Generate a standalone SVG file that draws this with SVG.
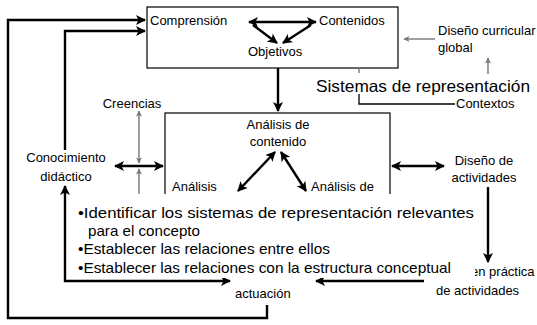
<svg xmlns="http://www.w3.org/2000/svg" width="537" height="325" viewBox="0 0 537 325">
<style>
text{font-family:"Liberation Sans",Arial,sans-serif;fill:#000}
.s{font-size:13px}
.b{font-size:15px}
.k{fill:none;stroke:#000;stroke-width:2.4}
.g{fill:none;stroke:#777;stroke-width:1.4}
.box{fill:#fff;stroke:#000;stroke-width:1.2}
</style>
<defs>
<marker id="ah" viewBox="0 0 10 10" refX="9" refY="5" markerWidth="11" markerHeight="10" markerUnits="userSpaceOnUse" orient="auto-start-reverse"><path d="M0,0 L10,5 L0,10 L2.5,5 z" fill="#000"/></marker>
<marker id="gh" viewBox="0 0 10 10" refX="9" refY="5" markerWidth="7" markerHeight="6" markerUnits="userSpaceOnUse" orient="auto-start-reverse"><path d="M0,0 L10,5 L0,10 L2.5,5 z" fill="#777"/></marker>
</defs>
<g id="top-box">
<rect class="box" x="147" y="7" width="251" height="61"/>
<text class="s" x="150" y="25">Comprensión</text>
<text class="s" x="319" y="25">Contenidos</text>
<text class="s" x="248" y="56">Objetivos</text>
</g>
<g id="middle-box">
<rect class="box" x="165" y="113" width="225" height="100"/>
<text class="s" x="278" y="129" text-anchor="middle">Análisis de</text>
<text class="s" x="278" y="146" text-anchor="middle">contenido</text>
<text class="s" x="172" y="191">Análisis</text>
<text class="s" x="311" y="191">Análisis de</text>
</g>
<g id="labels">
<text class="s" x="132" y="108" text-anchor="middle">Creencias</text>
<text class="s" x="66" y="162" text-anchor="middle">Conocimiento</text>
<text class="s" x="66" y="181" text-anchor="middle">didáctico</text>
<text class="s" x="438" y="35">Diseño curricular</text>
<text class="s" x="438" y="52">global</text>
<text x="316" y="92" font-size="16.5" textLength="214" lengthAdjust="spacingAndGlyphs">Sistemas de representación</text>
<text class="s" x="456" y="108">Contextos</text>
<text class="s" x="484" y="165" text-anchor="middle">Diseño de</text>
<text class="s" x="484" y="182" text-anchor="middle">actividades</text>
<text class="s" x="471" y="276">en práctica</text>
<text class="s" x="436" y="295">de actividades</text>
<text class="s" x="235" y="298">actuación</text>
</g>
<g id="connectors">
<path class="k" d="M267,305 V318 H8 V20 H145" marker-end="url(#ah)"/>
<path class="k" d="M65,150 V31 H145" marker-end="url(#ah)"/>
<path class="k" d="M278,68 V111" marker-end="url(#ah)"/>
<path class="k" d="M65,186 V281 H230" marker-start="url(#ah)" marker-end="url(#ah)"/>
<path class="k" d="M424,281 H316" marker-end="url(#ah)"/>
<path class="k" d="M488,187 V262" marker-end="url(#ah)"/>
<path class="k" d="M392,166 H444" marker-start="url(#ah)" marker-end="url(#ah)"/>
<path class="k" d="M115,166 H163" marker-start="url(#ah)" marker-end="url(#ah)"/>
<path class="k" d="M249,22 H316" marker-start="url(#ah)" marker-end="url(#ah)"/>
<path class="k" d="M253,25 L277,43" marker-end="url(#ah)"/>
<path class="k" d="M311,25 L283,43" marker-end="url(#ah)"/>
<path class="k" d="M275,152 L238,191" marker-start="url(#ah)" marker-end="url(#ah)"/>
<path class="k" d="M281,152 L306,191" marker-start="url(#ah)" marker-end="url(#ah)"/>
<path class="g" d="M139,111 V163" marker-start="url(#gh)" marker-end="url(#gh)"/>
<path class="g" d="M139,169 V200" marker-start="url(#gh)"/>
<path class="g" d="M435,39 H404" marker-end="url(#gh)"/>
<path class="g" d="M488,74 V58" marker-end="url(#gh)"/>
<path class="g" d="M359,68 V73"/>
<path fill="none" stroke="#000" stroke-width="1.3" d="M359,94 V104 H455"/>
</g>
<g id="overlay">
<rect x="70" y="194" width="405" height="84" fill="#fff"/>
<text class="b" x="78" y="218" textLength="396" lengthAdjust="spacingAndGlyphs">•Identificar los sistemas de representación relevantes</text>
<text class="b" x="88" y="236" textLength="112" lengthAdjust="spacingAndGlyphs">para el concepto</text>
<text class="b" x="78" y="254" textLength="252" lengthAdjust="spacingAndGlyphs">•Establecer las relaciones entre ellos</text>
<text class="b" x="78" y="273" textLength="373" lengthAdjust="spacingAndGlyphs">•Establecer las relaciones con la estructura conceptual</text>
</g>
</svg>
